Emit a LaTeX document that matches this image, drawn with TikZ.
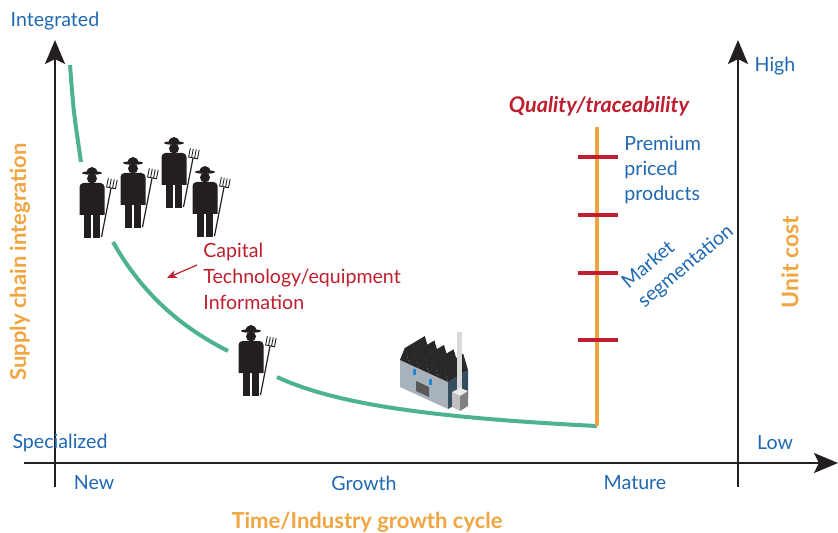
\documentclass[tikz,border=0pt]{standalone}
\usepackage{fontspec}
\setmainfont{Lato}
\usetikzlibrary{arrows.meta}

\definecolor{axisblack}{RGB}{35,31,32}
\definecolor{labelblue}{RGB}{31,104,178}
\definecolor{titleorange}{RGB}{240,165,65}
\definecolor{notered}{RGB}{190,30,45}
\definecolor{curveteal}{RGB}{76,178,146}
\definecolor{wallfront}{RGB}{168,178,186}
\definecolor{wallside}{RGB}{52,78,94}
\definecolor{roofdark}{RGB}{40,40,40}
\definecolor{roofmid}{RGB}{88,88,88}
\definecolor{windowblue}{RGB}{30,136,208}

\tikzset{
  axis/.style={draw=axisblack, line width=1.2pt},
  axisarrow/.style={axis, -{Stealth[length=12pt,width=10pt,inset=2.5pt]}},
  bluelabel/.style={text=labelblue, font=\fontsize{9.8}{12.5}\selectfont, inner sep=0pt, align=left},
  axistitle/.style={text=titleorange, font=\fontsize{11}{13}\selectfont\bfseries, inner sep=0pt},
  rednote/.style={text=notered, font=\fontsize{9.8}{13}\selectfont, inner sep=0pt, align=left},
  curve/.style={draw=curveteal, line width=2pt},
  qtick/.style={draw=notered, line width=1.7pt},
  % y runs upwards inside the pic, origin between the feet
  farmer/.pic={
    \fill[axisblack] (-8,0) rectangle (-0.8,25);
    \fill[axisblack] (0.8,0) rectangle (8,25);
    \fill[axisblack] (-12.5,23) [rounded corners=2pt] -- (-12.5,55) -- (12.5,55) [sharp corners] -- (12.5,23) -- cycle;
    \fill[axisblack] (0,59.5) circle [radius=5];
    \fill[axisblack] (0,65) circle [x radius=10, y radius=1.8];
    \fill[axisblack] (-5.5,65) arc [start angle=180, end angle=0, x radius=5.5, y radius=6] -- cycle;
    \begin{scope}[shift={(9.5,1)}, rotate=-11]
      \draw[axisblack, line width=0.6pt] (0,0) -- (0,50);
      \draw[axisblack, line width=0.45pt] (-4.5,59) -- (-4.5,50) -- (4.5,50) -- (4.5,59)
        (-1.5,50) -- (-1.5,59) (1.5,50) -- (1.5,59);
    \end{scope}
  },
}

\begin{document}
\begin{tikzpicture}[x=0.5pt,y=0.5pt,yscale=-1,xscale=1]
\useasboundingbox (0,0) rectangle (838,533);

% axis ends
\coordinate (yaxisbottom) at (55,487);
\coordinate (yaxistop) at (55,40);
\coordinate (xaxisleft) at (24,463);
\coordinate (xaxisright) at (838,463);
\coordinate (costbottom) at (738,487);
\coordinate (costtop) at (738,40);

% Axes
\draw[axisarrow] (xaxisleft) -- (xaxisright);
\draw[axisarrow] (yaxisbottom) -- (yaxistop);
\draw[axisarrow] (costbottom) -- (costtop);

% Axis labels
\node[bluelabel] (integrated) at (55,21) {Integrated};
\node[bluelabel] (specialized) at (60,443) {Specialized};
\node[axistitle, rotate=90] (supply) at (20,262) {Supply chain integration};
\node[bluelabel] (new) at (94,483) {New};
\node[bluelabel] (growth) at (364,483) {Growth};
\node[bluelabel] (mature) at (635,483) {Mature};
\node[axistitle] (timecycle) at (367,522) {Time/Industry growth cycle};
\node[bluelabel] (high) at (775,66) {High};
\node[bluelabel] (low) at (775,443) {Low};
\node[axistitle, rotate=90, font=\fontsize{11.5}{13}\selectfont\bfseries] (unitcost) at (790,262) {Unit cost};

% Cost curve, broken where the farmers stand
\draw[curve] plot[smooth] coordinates {(70,65) (74,112) (81,162)};
\draw[curve] plot[domain=113:228, samples=40] (\x,{476.2-309.39/((\x+19.1)/100)});
\draw[curve] plot[domain=277:597, samples=40] (\x,{450.2-115.46/((\x-119.2)/100)});

% Farmers
\pic at (92,238) {farmer};
\pic at (133,228) {farmer};
\pic at (174,208) {farmer};
\pic at (205,237) {farmer};
\pic at (251,396) {farmer};

% Capital note
\node[rednote, anchor=west] (capital) at (203,276) {Capital\\Technology/equipment\\Information};
\coordinate (captail) at (197,265);
\coordinate (captip) at (167,278);
\draw[notered, line width=0.6pt, -{Stealth[length=5pt,width=4pt]}] (captail) -- (captip);

% Factory
\fill[wallfront] (400,360) -- (448,382) -- (448,409) -- (400,387) -- cycle;
\fill[wallside] (448,382) -- (468,370) -- (468,398) -- (448,409) -- cycle;
\foreach \i in {0,...,4} {
  \fill[roofmid] ({400+9.6*\i},{360+4.4*\i}) -- ({404.8+9.6*\i},{348.2+4.4*\i})
    -- ({424.8+9.6*\i},{336.2+4.4*\i}) -- ({420+9.6*\i},{348+4.4*\i}) -- cycle;
  \fill[roofdark] ({404.8+9.6*\i},{348.2+4.4*\i}) -- ({409.6+9.6*\i},{364.4+4.4*\i})
    -- ({429.6+9.6*\i},{352.4+4.4*\i}) -- ({424.8+9.6*\i},{336.2+4.4*\i}) -- cycle;
  \fill[roofdark] ({400+9.6*\i},{360+4.4*\i}) -- ({404.8+9.6*\i},{348.2+4.4*\i})
    -- ({409.6+9.6*\i},{364.4+4.4*\i}) -- cycle;
}
\fill[windowblue] (413,369) rectangle (416,375);
\fill[windowblue] (429,379) rectangle (432,385);
\fill[black!65] (416,381) -- (429,387) -- (429,397) -- (416,391) -- cycle;
\fill[black!15] (457,332) rectangle (462,390);
\fill[black!25] (452,392) -- (460,396) -- (460,411) -- (452,407) -- cycle;
\fill[black!50] (460,396) -- (468,391) -- (468,406) -- (460,411) -- cycle;
\fill[black!8] (452,392) -- (460,388) -- (468,391) -- (460,396) -- cycle;

% Quality / traceability scale
\coordinate (qualtop) at (597,127);
\coordinate (qualbottom) at (597,426);
\draw[draw=titleorange, line width=2pt] (qualbottom) -- (qualtop);
\foreach \y in {157,215,273,340}
  \draw[qtick] (578,\y) -- (618,\y);
\node[text=notered, font=\fontsize{10.8}{12}\selectfont\bfseries\itshape, inner sep=0pt] (quality) at (599,106) {Quality/traceability};
\node[bluelabel, anchor=west] (premium) at (624,170) {Premium\\priced\\products};
\node[bluelabel, rotate=40] (market) at (678,257) {Market\\segmentation};

\end{tikzpicture}
\end{document}
